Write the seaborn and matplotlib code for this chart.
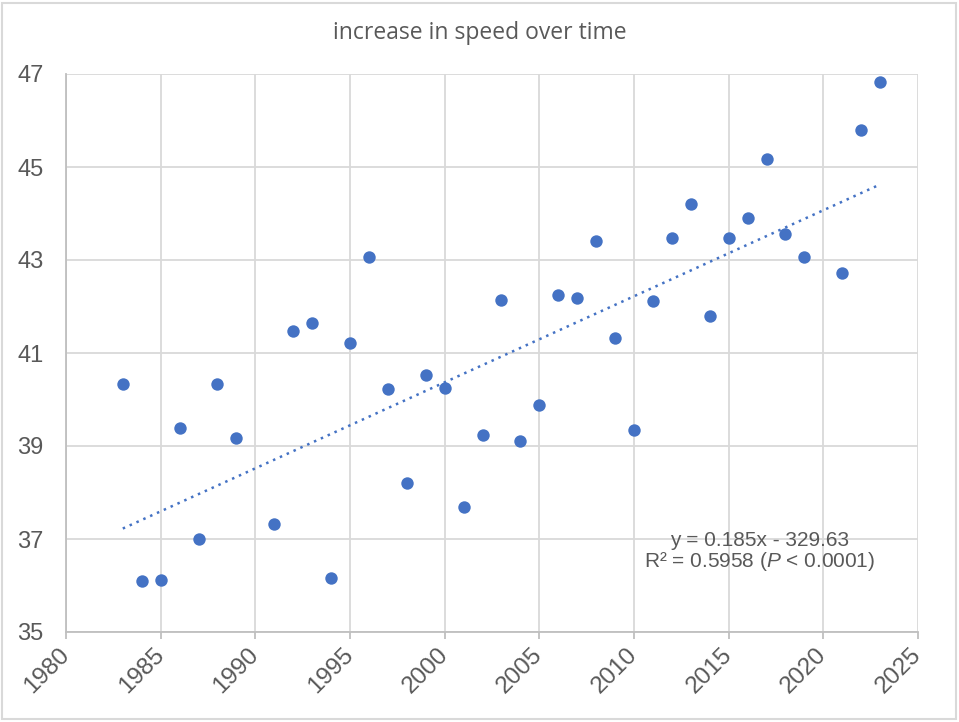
import numpy as np
import pandas as pd
import seaborn as sns
import matplotlib.pyplot as plt
from matplotlib.patches import Rectangle

# values
years = [1983, 1984, 1985, 1986, 1987, 1988, 1989, 1991, 1992, 1993,
         1994, 1995, 1996, 1997, 1998, 1999, 2000, 2001, 2002, 2003,
         2004, 2005, 2006, 2007, 2008, 2009, 2010, 2011, 2012, 2013,
         2014, 2015, 2016, 2017, 2018, 2019, 2021, 2022, 2023]
speed = [40.33, 36.09, 36.12, 39.38, 36.99, 40.33, 39.18, 37.32, 41.48, 41.64,
         36.16, 41.22, 43.07, 40.23, 38.20, 40.53, 40.25, 37.69, 39.23, 42.14,
         39.11, 39.88, 42.24, 42.18, 43.41, 41.33, 39.34, 42.12, 43.47, 44.20,
         41.79, 43.47, 43.91, 45.18, 43.55, 43.07, 42.73, 45.80, 46.83]
x_ticks = list(range(1980, 2026, 5))
y_ticks = list(range(35, 48, 2))

# trendline as given on the chart
slope = 0.185
intercept = -329.63

title = "increase in speed over time"
eq_text = "y = 0.185x - 329.63\nR² = 0.5958 ($\\it{P}$ < 0.0001)"

df = pd.DataFrame({"year": years, "speed": speed})
trend = pd.DataFrame({"year": [min(years), max(years)]})
trend["speed"] = slope * trend["year"] + intercept

blue = "#4472C4"
grey_text = "#595959"
grid_col = "#D9D9D9"

sns.set_theme(style="whitegrid")
plt.rcParams["font.family"] = ["Liberation Sans", "DejaVu Sans"]
plt.rcParams["mathtext.fontset"] = "custom"
plt.rcParams["mathtext.rm"] = "Liberation Sans"
plt.rcParams["mathtext.it"] = "Liberation Sans:italic"

fig = plt.figure(figsize=(9.59, 7.22), dpi=100)
ax = fig.add_axes([66 / 959, 1 - 632 / 722, (918 - 66) / 959, (632 - 74) / 722])

sns.scatterplot(data=df, x="year", y="speed", ax=ax, color=blue,
                s=80, linewidth=0, zorder=3)
sns.lineplot(data=trend, x="year", y="speed", ax=ax, color=blue,
             linestyle=(0, (1, 2.0)), linewidth=1.8)

ax.set_xlim(1980, 2025)
ax.set_ylim(35, 47)
ax.set_xticks(x_ticks)
ax.set_yticks(y_ticks)
ax.set_xlabel("")
ax.set_ylabel("")

ax.grid(True, color=grid_col, linewidth=1.3)
for s in ["top", "right"]:
    ax.spines[s].set_visible(False)
for s in ["left", "bottom"]:
    ax.spines[s].set_color("#BFBFBF")
    ax.spines[s].set_linewidth(1.3)

ax.tick_params(axis="y", length=0, pad=16, labelsize=17, labelcolor=grey_text)
ax.tick_params(axis="x", length=5, width=1.3, color="#BFBFBF", direction="out",
               pad=9, labelsize=17.5, labelcolor=grey_text, bottom=True)
for lab in ax.get_xticklabels():
    lab.set_rotation(45)
    lab.set_ha("right")
    lab.set_va("center")
    lab.set_rotation_mode("anchor")

ax.text(2016.65, 36.72, eq_text, ha="center", va="center", multialignment="center",
        fontsize=15, color=grey_text, linespacing=0.95)

fig.text(0.5, 1 - 33 / 722, title, ha="center", va="center",
         fontsize=16.5, color=grey_text, family=["Open Sans", "DejaVu Sans"])

# chart area border
fig.patches.append(Rectangle((2 / 959, 3 / 722), 954 / 959, 716 / 722,
                             transform=fig.transFigure, fill=False,
                             edgecolor=grid_col, linewidth=1.5))

fig.savefig("out.png", dpi=100)
